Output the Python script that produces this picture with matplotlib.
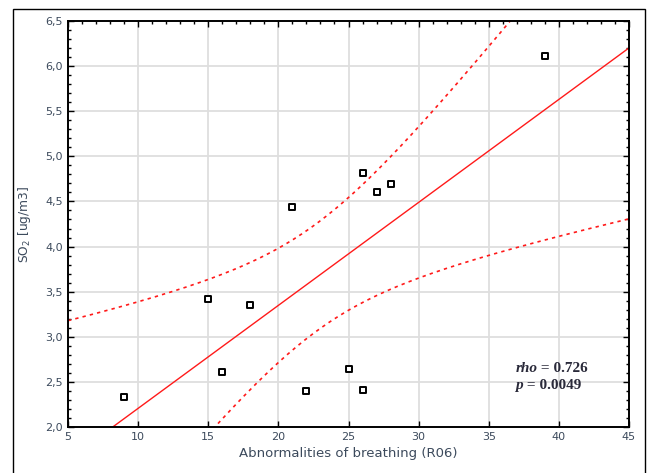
import numpy as np
import matplotlib
matplotlib.use('Agg')
import matplotlib.pyplot as plt
from matplotlib.patches import Rectangle
from matplotlib.ticker import MultipleLocator, FuncFormatter

# data
breathing = [9, 15, 16, 18, 21, 22, 25, 26, 26, 27, 28, 39]
so2 = [2.33, 3.42, 2.61, 3.35, 4.44, 2.40, 2.64, 4.82, 2.41, 4.61, 4.69, 6.11]
x_ticks = [5, 10, 15, 20, 25, 30, 35, 40, 45]
y_ticks = [2.0, 2.5, 3.0, 3.5, 4.0, 4.5, 5.0, 5.5, 6.0, 6.5]
rho_text = '0.726'
p_text = '0.0049'

x = np.array(breathing, dtype=float)
y = np.array(so2)

# linear fit + 95% confidence band of the mean
n = len(x)
slope, intercept = np.polyfit(x, y, 1)
resid = y - (intercept + slope * x)
s = np.sqrt(np.sum(resid ** 2) / (n - 2))
sxx = np.sum((x - x.mean()) ** 2)
t_crit = 2.228  # t(0.975, df=10)
xx = np.linspace(x_ticks[0], x_ticks[-1], 200)
fit = intercept + slope * xx
half = t_crit * s * np.sqrt(1.0 / n + (xx - x.mean()) ** 2 / sxx)

txt_col = '#3c4a5c'

fig = plt.figure(figsize=(6.5, 4.73), dpi=100)
fig.patches.append(Rectangle((13 / 650, -0.05), (645 - 13) / 650, 1.05 - 9 / 473,
                             transform=fig.transFigure, fill=False,
                             edgecolor='black', linewidth=1.0))
ax = fig.add_axes([68 / 650, 1 - 427 / 473, (629 - 68) / 650, (427 - 21) / 473])

ax.plot(xx, fit, color='#ff1a1a', linewidth=1.0)
ax.plot(xx, fit + half, color='#ff1a1a', linewidth=1.2, linestyle=(0, (2, 2.5)))
ax.plot(xx, fit - half, color='#ff1a1a', linewidth=1.2, linestyle=(0, (2, 2.5)))
ax.scatter(x, y, marker='s', s=20, facecolors='white', edgecolors='black',
           linewidths=1.4, zorder=5)

ax.set_xlim(x_ticks[0], x_ticks[-1])
ax.set_ylim(y_ticks[0], y_ticks[-1])
ax.set_xticks(x_ticks)
ax.set_yticks(y_ticks)
ax.xaxis.set_minor_locator(MultipleLocator(1))
ax.yaxis.set_minor_locator(MultipleLocator(0.1))
ax.yaxis.set_major_formatter(FuncFormatter(lambda v, p: f'{v:.1f}'.replace('.', ',')))
ax.tick_params(which='both', direction='in', top=True, right=True, labelsize=8,
               labelcolor=txt_col, width=1.0)
ax.tick_params(which='major', length=4)
ax.tick_params(which='minor', length=2.5)
ax.tick_params(axis='x', which='minor', bottom=False)
ax.grid(True, color='#dedede', linewidth=1.3)
ax.set_axisbelow(True)
for sp in ax.spines.values():
    sp.set_linewidth(1.4)

ax.set_xlabel('Abnormalities of breathing (R06)', fontsize=9.5, color=txt_col, labelpad=4)
ax.set_ylabel('SO$_2$ [ug/m3]', fontsize=8.8, color=txt_col, labelpad=9)

t1 = ax.text(36.9, 2.645, 'rho', fontsize=11, family='Liberation Serif',
             style='italic', weight='bold', color='#2a2a3a', va='center')
ax.annotate(' = ' + rho_text, xy=(1, 0), xycoords=t1, va='bottom', fontsize=11,
            family='Liberation Serif', weight='bold', color='#2a2a3a')
t2 = ax.text(36.9, 2.46, 'p', fontsize=11, family='Liberation Serif',
             style='italic', weight='bold', color='#2a2a3a', va='center')
ax.annotate(' = ' + p_text, xy=(1, 0), xycoords=t2, va='bottom', fontsize=11,
            family='Liberation Serif', weight='bold', color='#2a2a3a')

fig.savefig('out.png', dpi=100)
